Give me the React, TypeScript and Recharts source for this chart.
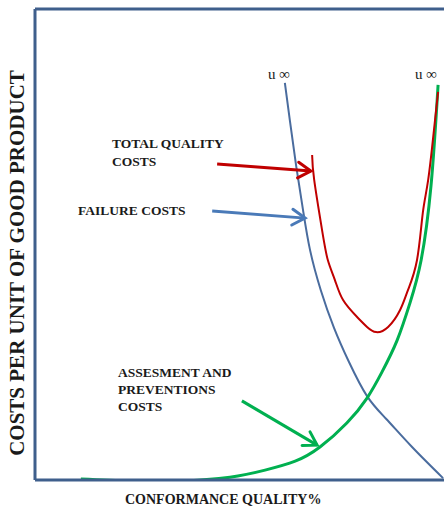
import React from "react";
import { LineChart, Line, XAxis, YAxis, ReferenceLine } from "recharts";

// conformance quality % (q) vs cost per unit (c)
const failureCosts = [
  { q: 60.5, c: 84.3 },
  { q: 61.7, c: 76.4 },
  { q: 63.2, c: 66.9 },
  { q: 64.9, c: 57.3 },
  { q: 66.6, c: 48.8 },
  { q: 69.2, c: 40.3 },
  { q: 72.4, c: 32.3 },
  { q: 76.0, c: 25.1 },
  { q: 80.4, c: 17.8 },
  { q: 85.0, c: 13.0 },
  { q: 91.3, c: 7.0 },
  { q: 98.8, c: 0.4 },
];

const totalCosts = [
  { q: 67.1, c: 69.0 },
  { q: 67.6, c: 63.7 },
  { q: 69.5, c: 53.1 },
  { q: 70.9, c: 46.7 },
  { q: 72.6, c: 42.5 },
  { q: 74.6, c: 38.2 },
  { q: 78.0, c: 34.6 },
  { q: 80.4, c: 32.5 },
  { q: 82.6, c: 31.4 },
  { q: 85.5, c: 32.5 },
  { q: 88.4, c: 36.1 },
  { q: 90.3, c: 40.3 },
  { q: 92.5, c: 46.7 },
  { q: 93.9, c: 56.7 },
  { q: 95.2, c: 63.7 },
  { q: 96.6, c: 74.3 },
  { q: 97.6, c: 82.4 },
];

const preventionCosts = [
  { q: 11.1, c: 0.2 },
  { q: 23.0, c: -0.2 },
  { q: 35.1, c: -0.2 },
  { q: 47.2, c: 0.6 },
  { q: 55.7, c: 2.1 },
  { q: 63.0, c: 4.0 },
  { q: 69.0, c: 7.0 },
  { q: 75.5, c: 12.1 },
  { q: 80.4, c: 17.4 },
  { q: 84.0, c: 22.9 },
  { q: 87.7, c: 29.7 },
  { q: 90.8, c: 37.6 },
  { q: 93.5, c: 46.7 },
  { q: 95.9, c: 62.6 },
  { q: 97.6, c: 83.9 },
];

// annotation arrows: [tail, tip]
const arrows = [
  { color: "#c00000", from: { q: 44.1, c: 67.1 }, to: { q: 66.8, c: 65.6 } },
  { color: "#4a7ab8", from: { q: 42.9, c: 57.1 }, to: { q: 65.4, c: 55.6 } },
  { color: "#00b050", from: { q: 50.1, c: 16.8 }, to: { q: 68.3, c: 7.4 } },
];

const FRAME = "#3f5f8c";
const serif = "'Liberation Serif', 'DejaVu Serif', serif";

function arrowShape(color: string) {
  return (props: any) => {
    const { x1, y1, x2, y2 } = props;
    const a = Math.atan2(y2 - y1, x2 - x1);
    const len = 15;
    const spread = 0.55;
    const h1x = x2 - len * Math.cos(a - spread);
    const h1y = y2 - len * Math.sin(a - spread);
    const h2x = x2 - len * Math.cos(a + spread);
    const h2y = y2 - len * Math.sin(a + spread);
    return (
      <g>
        <line x1={x1} y1={y1} x2={x2} y2={y2} stroke={color} strokeWidth={3} />
        <polyline
          points={`${h1x},${h1y} ${x2},${y2} ${h2x},${h2y}`}
          fill="none"
          stroke={color}
          strokeWidth={3}
          strokeLinecap="round"
        />
      </g>
    );
  };
}

const label: React.CSSProperties = {
  position: "absolute",
  fontFamily: serif,
  fontWeight: "bold",
  fontSize: 13.5,
  color: "#1a1a1a",
  whiteSpace: "nowrap",
};

const frameLine = { stroke: FRAME, strokeWidth: 3 };

export default function App() {
  return (
    <div
      style={{
        position: "absolute",
        left: 0,
        top: 0,
        width: 444,
        height: 507,
        overflow: "hidden",
        background: "#fff",
      }}
    >
      <LineChart
        width={460}
        height={507}
        margin={{ top: 8, right: 12, bottom: 26, left: 34 }}
      >
        <XAxis
          dataKey="q"
          type="number"
          domain={[0, 100]}
          allowDataOverflow
          height={1}
          tick={false}
          tickLine={false}
          axisLine={frameLine}
        />
        <XAxis
          xAxisId="top"
          orientation="top"
          dataKey="q"
          type="number"
          domain={[0, 100]}
          height={1}
          tick={false}
          tickLine={false}
          axisLine={frameLine}
        />
        <YAxis
          dataKey="c"
          type="number"
          domain={[0, 100]}
          allowDataOverflow
          width={1}
          tick={false}
          tickLine={false}
          axisLine={frameLine}
        />
        <Line
          data={failureCosts}
          dataKey="c"
          type="natural"
          stroke="#4a6c9e"
          strokeWidth={2}
          dot={false}
          isAnimationActive={false}
        />
        <Line
          data={preventionCosts}
          dataKey="c"
          type="natural"
          stroke="#00b050"
          strokeWidth={3}
          dot={false}
          isAnimationActive={false}
        />
        <Line
          data={totalCosts}
          dataKey="c"
          type="natural"
          stroke="#c00000"
          strokeWidth={2}
          dot={false}
          isAnimationActive={false}
        />
        {arrows.map((a, i) => (
          <ReferenceLine
            key={i}
            segment={[
              { x: a.from.q, y: a.from.c },
              { x: a.to.q, y: a.to.c },
            ]}
            ifOverflow="visible"
            shape={arrowShape(a.color)}
          />
        ))}
      </LineChart>

      <div style={{ ...label, fontWeight: "normal", fontSize: 15, left: 268, top: 66 }}>u ∞</div>
      <div style={{ ...label, fontWeight: "normal", fontSize: 15, left: 415, top: 66 }}>u ∞</div>

      <div style={{ ...label, left: 112, top: 135, lineHeight: "18px" }}>
        TOTAL QUALITY
        <br />
        COSTS
      </div>
      <div style={{ ...label, left: 78, top: 202, lineHeight: "18px" }}>FAILURE COSTS</div>
      <div style={{ ...label, left: 118, top: 364, lineHeight: "17px" }}>
        ASSESMENT AND
        <br />
        PREVENTIONS
        <br />
        COSTS
      </div>
      <div style={{ ...label, left: 125, top: 491, lineHeight: "18px", fontSize: 14 }}>
        CONFORMANCE QUALITY%
      </div>
      <div
        style={{
          ...label,
          fontSize: 21,
          left: 17,
          top: 263,
          transform: "translate(-50%, -50%) rotate(-90deg)",
        }}
      >
        COSTS PER UNIT OF GOOD PRODUCT
      </div>
    </div>
  );
}
